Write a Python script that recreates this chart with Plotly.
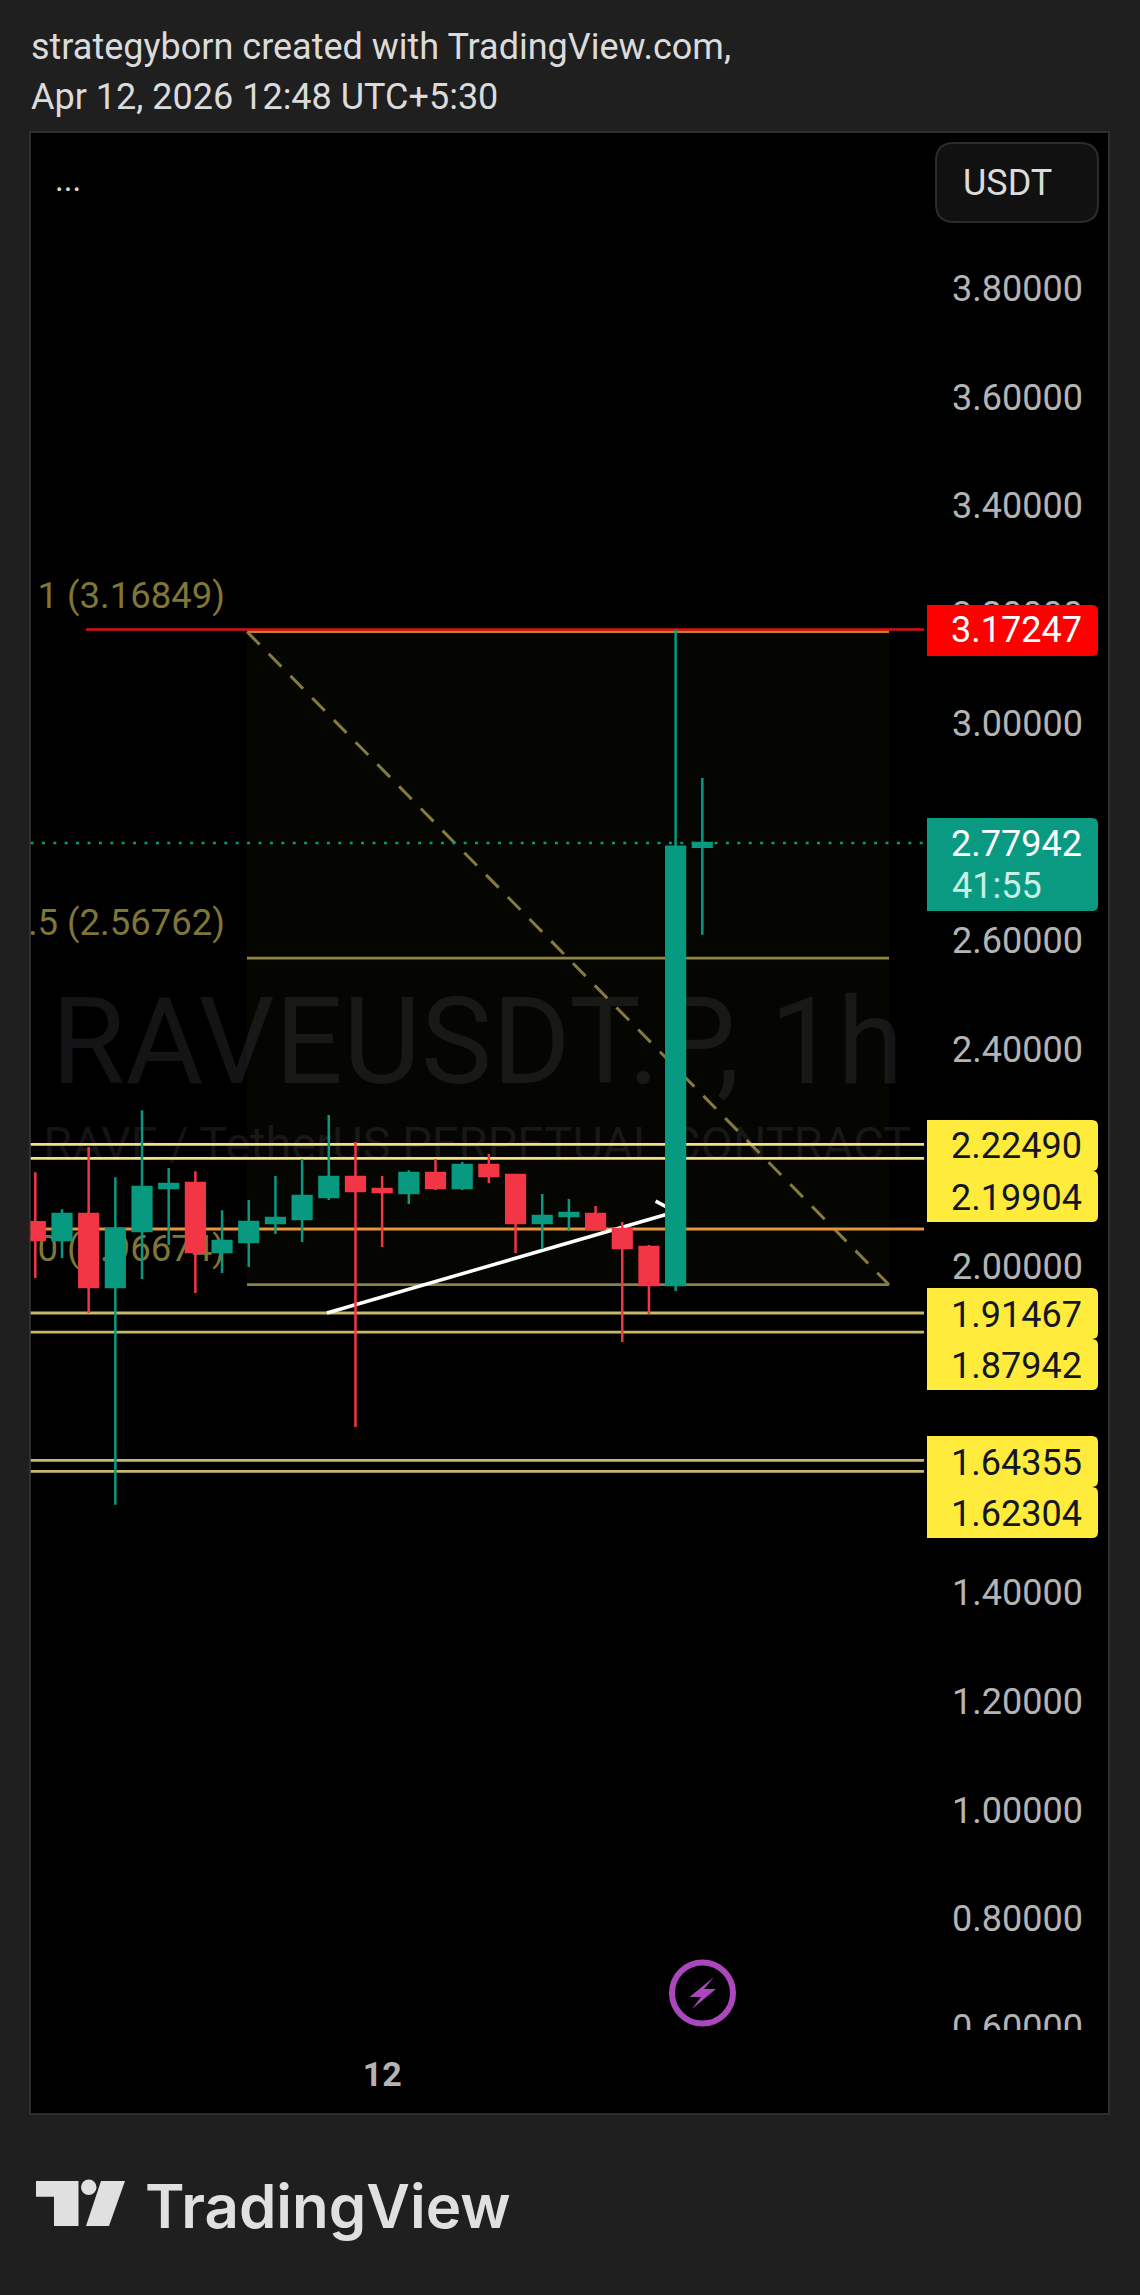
import plotly.graph_objects as go

# ---------- data ----------
hours = list(range(26))
opens = [2.0815,2.0490,2.0968,1.9625,2.0655,2.1447,2.1539,2.0269,2.0453,2.0803,2.0876,2.1281,2.1649,
         2.1428,2.1355,2.1723,2.1447,2.1870,2.1686,2.0802,2.0931,2.0968,2.0692,2.0361,1.9662,2.7728]
highs = [2.1735,2.1054,2.2201,2.1643,2.2876,2.1815,2.1753,2.1036,2.1226,2.1668,2.1980,2.2790,2.2293,
         2.1668,2.1772,2.1980,2.1925,2.2072,2.1704,2.1336,2.1244,2.1115,2.0821,2.0398,3.1725,2.8992]
lows  = [1.9790,2.0158,1.9146,1.5619,1.9772,2.0398,1.9514,1.9882,1.9993,2.0600,2.0453,2.1226,1.7048,
         2.0361,2.1153,2.1410,2.1410,2.1539,2.0250,2.0324,2.0655,2.0674,1.8613,1.9128,1.9551,2.6108]
closes= [2.0490,2.0968,1.9625,2.0692,2.1465,2.1520,2.0269,2.0471,2.0821,2.0895,2.1300,2.1649,2.1392,
         2.1373,2.1723,2.1447,2.1870,2.1668,2.0802,2.0931,2.0986,2.0692,2.0342,1.9662,2.7728,2.77942]

price_ticks = [3.8,3.6,3.4,3.2,3.0,2.8,2.6,2.4,2.2,2.0,1.8,1.6,1.4,1.2,1.0,0.8,0.6]
price_tick_text = ["3.80000","3.60000","3.40000","3.20000","3.00000","","2.60000","2.40000","","2.00000","","","1.40000","1.20000","1.00000","0.80000","0.60000"]
time_tick_pos = [13]
time_tick_text = ["12"]

upper_levels = [2.22490, 2.19904]
lower_levels = [1.91467, 1.87942, 1.64355, 1.62304]
orange_level = 2.0692
red_level = 3.17247
last_price = 2.77942
fib_levels = [3.16849, 2.56762, 1.96674]
fib_texts = ["1 (3.16849)", ".5 (2.56762)", "0 (1.96674)"]
trend_x = [10.93, 24.0, 23.25]
trend_y = [1.9146, 2.1010, 2.1205]

# ---------- geometry ----------
W, H = 1140, 2295
def px(x): return x / W
def py(y): return 1 - y / H
PANE_L, PANE_R, PANE_T, PANE_B = 30.5, 924.0, 133.0, 2030.0
PANEL_R, PANEL_B = 1109.0, 2114.0
x_of = lambda xp: (xp - 35.3) / 26.68
y_of = lambda yp: 3.8 - (yp - 288.5) / 543.4
XMIN, XMAX = x_of(PANE_L), x_of(PANE_R)
FIB_X0, FIB_X1 = x_of(247), x_of(889)

BG = "#1f1f1f"; FONT = "Roboto"; UP = "#089981"; DOWN = "#f23645"
TICK = "#b4b4b4"; YEL = "#ffeb3b"

def rpath(x0, x1, y0, y1, r=6, left=False):
    a = lambda x, y: f"{px(x):.6f} {py(y):.6f}"
    rl = r if left else 0
    return ("M " + a(x0 + rl, y0) + " L " + a(x1 - r, y0) + " Q " + a(x1, y0) + " " + a(x1, y0 + r) +
            " L " + a(x1, y1 - r) + " Q " + a(x1, y1) + " " + a(x1 - r, y1) +
            " L " + a(x0 + rl, y1) + " Q " + a(x0, y1) + " " + a(x0, y1 - rl) +
            " L " + a(x0, y0 + rl) + " Q " + a(x0, y0) + " " + a(x0 + rl, y0) + " Z")

def poly(points):
    return "M " + " L ".join(f"{px(x):.6f} {py(y):.6f}" for x, y in points) + " Z"

shapes = []
def pshape(**k):
    k.setdefault("xref", "paper"); k.setdefault("yref", "paper"); shapes.append(k)

# panel
pshape(type="rect", x0=px(30), x1=px(PANEL_R), y0=py(PANEL_B), y1=py(132), fillcolor="#000000",
       line=dict(color="#2e2e2e", width=2), layer="below")

def dshape(**k):
    k.setdefault("xref", "x"); k.setdefault("yref", "y"); k.setdefault("layer", "below"); shapes.append(k)

def text_rect(xa, xb, yc, text, size, color, pos):
    dshape(type="rect", x0=xa, x1=xb, y0=yc - 0.1, y1=yc + 0.1, line=dict(width=0), fillcolor="rgba(0,0,0,0)",
           label=dict(text=text, font=dict(family=FONT, size=size, color=color), textposition=pos, padding=0))

# watermark
text_rect(XMIN, XMAX, y_of(1033), "RAVEUSDT.P, 1h", 120, "#141416", "middle center")
text_rect(XMIN, XMAX, y_of(1140), "RAVE / TetherUS PERPETUAL CONTRACT", 47, "#141416", "middle center")

# fib
dshape(type="rect", x0=FIB_X0, x1=FIB_X1, y0=fib_levels[2], y1=fib_levels[0], line=dict(width=0),
       fillcolor="rgba(120,120,30,0.04)")
for lv, tx, col in zip(fib_levels, fib_texts, ["#c87a30", "#8f8544", "#8b8048"]):
    dshape(type="line", x0=FIB_X0, x1=FIB_X1, y0=lv, y1=lv, line=dict(color=col, width=2.8))
    text_rect(XMIN, x_of(228), lv + 0.0710, tx, 36.5, "#7f7638", "middle right")
dshape(type="line", x0=FIB_X0, x1=FIB_X1, y0=fib_levels[0], y1=fib_levels[2],
       line=dict(color="#857b3c", width=3, dash="18px,13px"))

# levels
dshape(type="line", x0=x_of(86), x1=XMAX, y0=red_level, y1=red_level, line=dict(color="#d81010", width=2.6))
for lv in upper_levels:
    dshape(type="line", x0=XMIN, x1=XMAX, y0=lv, y1=lv, line=dict(color="#f5df80", width=2.8))
for lv in lower_levels:
    dshape(type="line", x0=XMIN, x1=XMAX, y0=lv, y1=lv, line=dict(color="#c8b86a", width=2.8))
dshape(type="line", x0=XMIN, x1=XMAX, y0=orange_level, y1=orange_level, line=dict(color="#e9953b", width=2.8))
dshape(type="line", x0=XMIN, x1=XMAX, y0=last_price, y1=last_price, line=dict(color=UP, width=2.5, dash="3px,8.4px"))
for i in range(len(trend_x) - 1):
    dshape(type="line", x0=trend_x[i], x1=trend_x[i + 1], y0=trend_y[i], y1=trend_y[i + 1],
           line=dict(color="#ffffff", width=3.5))

# price labels
ann = []
def label(text, xp, yp, size=36, color="#ffffff", anchor="right", weight=None):
    f = dict(family=FONT, size=size, color=color)
    if weight: f["weight"] = weight
    ann.append(dict(text=text, x=px(xp), y=py(yp), xref="paper", yref="paper", showarrow=False,
                    xanchor=anchor, yanchor="middle", font=f, borderpad=0))

pshape(type="rect", x0=px(925), x1=px(1108), y0=py(2030), y1=py(2113), fillcolor="#000000", line=dict(width=0), layer="above")
pshape(type="path", path=rpath(927, 1098, 605, 656), fillcolor="#ff0000", line=dict(width=0), layer="above")
label("3.17247", 1083, 630)
pshape(type="path", path=rpath(927, 1098, 818, 911), fillcolor="#0a9a82", line=dict(width=0), layer="above")
label("2.77942", 1083, 844)
label("41:55", 951, 886, color="#c8f0e4", anchor="left")
yellow_boxes = [(1120, 1171), (1171, 1222), (1288, 1339), (1339, 1390), (1436, 1487), (1487, 1538)]
yellow_texts = ["2.22490", "2.19904", "1.91467", "1.87942", "1.64355", "1.62304"]
for (a, b), t in zip(yellow_boxes, yellow_texts):
    pshape(type="path", path=rpath(927, 1098, a, b), fillcolor=YEL, line=dict(width=0), layer="above")
    label(t, 1083, (a + b) / 2 + 1, color="#131722")

# button
pshape(type="path", path=rpath(936, 1098, 143, 222, r=18, left=True), fillcolor="#111111",
       line=dict(color="#2c2c2c", width=2), layer="above")
label("USDT", 962, 183, size=36, color="#dbdbdb", anchor="left")
label("...", 54, 180, size=33, color="#dbdbdb", anchor="left")

# bolt
pshape(type="circle", x0=px(672), x1=px(733), y0=py(2023.5), y1=py(1962.5), fillcolor="#000000",
       line=dict(color="#ab47bc", width=6), layer="above")
pshape(type="path", path=poly([(714, 1977), (689.5, 1997), (701, 1997), (692, 2009), (716, 1989), (704, 1989)]),
       fillcolor="#ab47bc", line=dict(width=0), layer="above")

# logo
LOGO = "#e0e0e0"
pshape(type="path", path=poly([(36, 2181), (78.5, 2181), (78.5, 2226), (54, 2226), (54, 2196.7), (36, 2196.7)]),
       fillcolor=LOGO, line=dict(width=0), layer="above")
pshape(type="circle", x0=px(81), x1=px(96.5), y0=py(2195), y1=py(2179.5), fillcolor=LOGO, line=dict(width=0), layer="above")
pshape(type="path", path=poly([(101, 2181), (125, 2181), (109, 2226), (86, 2226)]),
       fillcolor=LOGO, line=dict(width=0), layer="above")
label("TradingView", 144, 2206, size=60, color=LOGO, anchor="left", weight=600)
ann[-1]["font"]["family"] = "Inter"

# heading
label("strategyborn created with TradingView.com,", 30, 47, size=36, color="#dbdbdb", anchor="left")
label("Apr 12, 2026 12:48 UTC+5:30", 30, 97, size=36, color="#dbdbdb", anchor="left")

fig = go.Figure(go.Candlestick(
    x=hours, open=opens, high=highs, low=lows, close=closes, whiskerwidth=0,
    increasing=dict(line=dict(color=UP, width=2.5), fillcolor=UP),
    decreasing=dict(line=dict(color=DOWN, width=2.5), fillcolor=DOWN),
    showlegend=False, hoverinfo="skip"))

fig.update_layout(
    width=W, height=H, margin=dict(l=0, r=0, t=0, b=0, pad=0), autosize=False,
    paper_bgcolor=BG, plot_bgcolor="#000000", showlegend=False, boxgap=0.3, boxgroupgap=0,
    shapes=shapes, annotations=ann, font=dict(family=FONT),
    xaxis=dict(domain=[px(PANE_L), px(PANE_R)], range=[XMIN, XMAX], rangeslider=dict(visible=False),
               automargin=False,
               showgrid=False, zeroline=False, showline=False, ticks="", tickmode="array",
               tickvals=time_tick_pos, ticktext=time_tick_text, ticklabelstandoff=21,
               tickfont=dict(family=FONT, size=34, color=TICK, weight=700)),
    yaxis=dict(domain=[py(PANE_B), py(PANE_T)], range=[y_of(PANE_B), y_of(PANE_T)], side="right",
               automargin=False,
               showgrid=False, zeroline=False, showline=False, ticks="", tickmode="array",
               tickvals=price_ticks, ticktext=price_tick_text, ticklabelstandoff=27,
               tickfont=dict(family=FONT, size=36, color=TICK)),
)
fig.write_html("out.html", config={"displayModeBar": False},
               post_script="var s=document.documentElement.style,b=document.body.style;s.margin='0';s.height='2295px';s.overflow='hidden';b.margin='0';b.height='2295px';b.overflow='hidden';b.background='#1f1f1f';")
